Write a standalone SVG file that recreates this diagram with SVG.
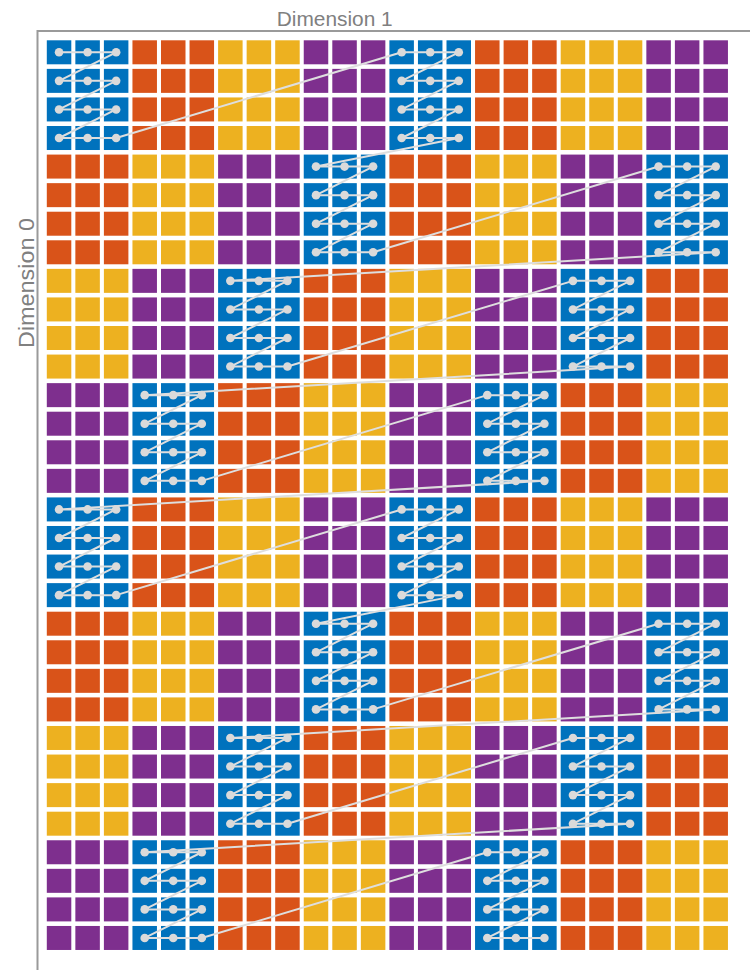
<svg xmlns="http://www.w3.org/2000/svg" xmlns:xlink="http://www.w3.org/1999/xlink" width="750" height="970" viewBox="0 0 750 970">
<style>
.B{fill:#0072BD}.O{fill:#D95319}.Y{fill:#EDB120}.P{fill:#7E2F8E}
.lbl{font-family:"Liberation Sans",Arial,sans-serif;font-size:21px;fill:#808080}
.axis{fill:none;stroke:#9a9a9a;stroke-width:2}
.trace{fill:none;stroke:#dedede;stroke-width:2;stroke-linejoin:round;marker-start:url(#dot);marker-mid:url(#dot);marker-end:url(#dot)}
</style>
<defs>
<g id="cells">
<rect x="0" y="0" width="24.5" height="24"/><rect x="28.55" y="0" width="24.5" height="24"/><rect x="57.1" y="0" width="24.5" height="24"/>
<rect x="0" y="28.57" width="24.5" height="24"/><rect x="28.55" y="28.57" width="24.5" height="24"/><rect x="57.1" y="28.57" width="24.5" height="24"/>
<rect x="0" y="57.14" width="24.5" height="24"/><rect x="28.55" y="57.14" width="24.5" height="24"/><rect x="57.1" y="57.14" width="24.5" height="24"/>
<rect x="0" y="85.71" width="24.5" height="24"/><rect x="28.55" y="85.71" width="24.5" height="24"/><rect x="57.1" y="85.71" width="24.5" height="24"/>
</g>
<marker id="dot" markerUnits="userSpaceOnUse" markerWidth="10" markerHeight="10" refX="5" refY="5" overflow="visible">
<circle cx="5" cy="5" r="4.3" fill="#dadada"/>
</marker>
</defs>
<rect x="0" y="0" width="750" height="970" fill="#ffffff"/>
<text class="lbl" x="334.7" y="25.5" text-anchor="middle" textLength="116" lengthAdjust="spacingAndGlyphs">Dimension 1</text>
<text class="lbl" transform="translate(33.5 283) rotate(-90)" text-anchor="middle" style="font-size:22px" textLength="130" lengthAdjust="spacingAndGlyphs">Dimension 0</text>
<path class="axis" d="M37.5 970 V31 H750"/>
<g id="blocks">
<g id="b0-0" class="B"><use xlink:href="#cells" x="46.8" y="40.3"/></g>
<g id="b0-1" class="O"><use xlink:href="#cells" x="132.45" y="40.3"/></g>
<g id="b0-2" class="Y"><use xlink:href="#cells" x="218.1" y="40.3"/></g>
<g id="b0-3" class="P"><use xlink:href="#cells" x="303.75" y="40.3"/></g>
<g id="b0-4" class="B"><use xlink:href="#cells" x="389.4" y="40.3"/></g>
<g id="b0-5" class="O"><use xlink:href="#cells" x="475.05" y="40.3"/></g>
<g id="b0-6" class="Y"><use xlink:href="#cells" x="560.7" y="40.3"/></g>
<g id="b0-7" class="P"><use xlink:href="#cells" x="646.35" y="40.3"/></g>
<g id="b1-0" class="O"><use xlink:href="#cells" x="46.8" y="154.58"/></g>
<g id="b1-1" class="Y"><use xlink:href="#cells" x="132.45" y="154.58"/></g>
<g id="b1-2" class="P"><use xlink:href="#cells" x="218.1" y="154.58"/></g>
<g id="b1-3" class="B"><use xlink:href="#cells" x="303.75" y="154.58"/></g>
<g id="b1-4" class="O"><use xlink:href="#cells" x="389.4" y="154.58"/></g>
<g id="b1-5" class="Y"><use xlink:href="#cells" x="475.05" y="154.58"/></g>
<g id="b1-6" class="P"><use xlink:href="#cells" x="560.7" y="154.58"/></g>
<g id="b1-7" class="B"><use xlink:href="#cells" x="646.35" y="154.58"/></g>
<g id="b2-0" class="Y"><use xlink:href="#cells" x="46.8" y="268.86"/></g>
<g id="b2-1" class="P"><use xlink:href="#cells" x="132.45" y="268.86"/></g>
<g id="b2-2" class="B"><use xlink:href="#cells" x="218.1" y="268.86"/></g>
<g id="b2-3" class="O"><use xlink:href="#cells" x="303.75" y="268.86"/></g>
<g id="b2-4" class="Y"><use xlink:href="#cells" x="389.4" y="268.86"/></g>
<g id="b2-5" class="P"><use xlink:href="#cells" x="475.05" y="268.86"/></g>
<g id="b2-6" class="B"><use xlink:href="#cells" x="560.7" y="268.86"/></g>
<g id="b2-7" class="O"><use xlink:href="#cells" x="646.35" y="268.86"/></g>
<g id="b3-0" class="P"><use xlink:href="#cells" x="46.8" y="383.14"/></g>
<g id="b3-1" class="B"><use xlink:href="#cells" x="132.45" y="383.14"/></g>
<g id="b3-2" class="O"><use xlink:href="#cells" x="218.1" y="383.14"/></g>
<g id="b3-3" class="Y"><use xlink:href="#cells" x="303.75" y="383.14"/></g>
<g id="b3-4" class="P"><use xlink:href="#cells" x="389.4" y="383.14"/></g>
<g id="b3-5" class="B"><use xlink:href="#cells" x="475.05" y="383.14"/></g>
<g id="b3-6" class="O"><use xlink:href="#cells" x="560.7" y="383.14"/></g>
<g id="b3-7" class="Y"><use xlink:href="#cells" x="646.35" y="383.14"/></g>
<g id="b4-0" class="B"><use xlink:href="#cells" x="46.8" y="497.42"/></g>
<g id="b4-1" class="O"><use xlink:href="#cells" x="132.45" y="497.42"/></g>
<g id="b4-2" class="Y"><use xlink:href="#cells" x="218.1" y="497.42"/></g>
<g id="b4-3" class="P"><use xlink:href="#cells" x="303.75" y="497.42"/></g>
<g id="b4-4" class="B"><use xlink:href="#cells" x="389.4" y="497.42"/></g>
<g id="b4-5" class="O"><use xlink:href="#cells" x="475.05" y="497.42"/></g>
<g id="b4-6" class="Y"><use xlink:href="#cells" x="560.7" y="497.42"/></g>
<g id="b4-7" class="P"><use xlink:href="#cells" x="646.35" y="497.42"/></g>
<g id="b5-0" class="O"><use xlink:href="#cells" x="46.8" y="611.7"/></g>
<g id="b5-1" class="Y"><use xlink:href="#cells" x="132.45" y="611.7"/></g>
<g id="b5-2" class="P"><use xlink:href="#cells" x="218.1" y="611.7"/></g>
<g id="b5-3" class="B"><use xlink:href="#cells" x="303.75" y="611.7"/></g>
<g id="b5-4" class="O"><use xlink:href="#cells" x="389.4" y="611.7"/></g>
<g id="b5-5" class="Y"><use xlink:href="#cells" x="475.05" y="611.7"/></g>
<g id="b5-6" class="P"><use xlink:href="#cells" x="560.7" y="611.7"/></g>
<g id="b5-7" class="B"><use xlink:href="#cells" x="646.35" y="611.7"/></g>
<g id="b6-0" class="Y"><use xlink:href="#cells" x="46.8" y="725.98"/></g>
<g id="b6-1" class="P"><use xlink:href="#cells" x="132.45" y="725.98"/></g>
<g id="b6-2" class="B"><use xlink:href="#cells" x="218.1" y="725.98"/></g>
<g id="b6-3" class="O"><use xlink:href="#cells" x="303.75" y="725.98"/></g>
<g id="b6-4" class="Y"><use xlink:href="#cells" x="389.4" y="725.98"/></g>
<g id="b6-5" class="P"><use xlink:href="#cells" x="475.05" y="725.98"/></g>
<g id="b6-6" class="B"><use xlink:href="#cells" x="560.7" y="725.98"/></g>
<g id="b6-7" class="O"><use xlink:href="#cells" x="646.35" y="725.98"/></g>
<g id="b7-0" class="P"><use xlink:href="#cells" x="46.8" y="840.26"/></g>
<g id="b7-1" class="B"><use xlink:href="#cells" x="132.45" y="840.26"/></g>
<g id="b7-2" class="O"><use xlink:href="#cells" x="218.1" y="840.26"/></g>
<g id="b7-3" class="Y"><use xlink:href="#cells" x="303.75" y="840.26"/></g>
<g id="b7-4" class="P"><use xlink:href="#cells" x="389.4" y="840.26"/></g>
<g id="b7-5" class="B"><use xlink:href="#cells" x="475.05" y="840.26"/></g>
<g id="b7-6" class="O"><use xlink:href="#cells" x="560.7" y="840.26"/></g>
<g id="b7-7" class="Y"><use xlink:href="#cells" x="646.35" y="840.26"/></g>
</g>
<g id="connectors">
<path class="trace" d="M59.05 52.3 h28.55h28.55l-57.1 28.57h28.55h28.55l-57.1 28.57h28.55h28.55l-57.1 28.57h28.55h28.55
L401.65 52.3 h28.55h28.55l-57.1 28.57h28.55h28.55l-57.1 28.57h28.55h28.55l-57.1 28.57h28.55h28.55
L316 166.58 h28.55h28.55l-57.1 28.57h28.55h28.55l-57.1 28.57h28.55h28.55l-57.1 28.57h28.55h28.55
L658.6 166.58 h28.55h28.55l-57.1 28.57h28.55h28.55l-57.1 28.57h28.55h28.55l-57.1 28.57h28.55h28.55
L230.35 280.86 h28.55h28.55l-57.1 28.57h28.55h28.55l-57.1 28.57h28.55h28.55l-57.1 28.57h28.55h28.55
L572.95 280.86 h28.55h28.55l-57.1 28.57h28.55h28.55l-57.1 28.57h28.55h28.55l-57.1 28.57h28.55h28.55
L144.7 395.14 h28.55h28.55l-57.1 28.57h28.55h28.55l-57.1 28.57h28.55h28.55l-57.1 28.57h28.55h28.55
L487.3 395.14 h28.55h28.55l-57.1 28.57h28.55h28.55l-57.1 28.57h28.55h28.55l-57.1 28.57h28.55h28.55
L59.05 509.42 h28.55h28.55l-57.1 28.57h28.55h28.55l-57.1 28.57h28.55h28.55l-57.1 28.57h28.55h28.55
L401.65 509.42 h28.55h28.55l-57.1 28.57h28.55h28.55l-57.1 28.57h28.55h28.55l-57.1 28.57h28.55h28.55
L316 623.7 h28.55h28.55l-57.1 28.57h28.55h28.55l-57.1 28.57h28.55h28.55l-57.1 28.57h28.55h28.55
L658.6 623.7 h28.55h28.55l-57.1 28.57h28.55h28.55l-57.1 28.57h28.55h28.55l-57.1 28.57h28.55h28.55
L230.35 737.98 h28.55h28.55l-57.1 28.57h28.55h28.55l-57.1 28.57h28.55h28.55l-57.1 28.57h28.55h28.55
L572.95 737.98 h28.55h28.55l-57.1 28.57h28.55h28.55l-57.1 28.57h28.55h28.55l-57.1 28.57h28.55h28.55
L144.7 852.26 h28.55h28.55l-57.1 28.57h28.55h28.55l-57.1 28.57h28.55h28.55l-57.1 28.57h28.55h28.55
L487.3 852.26 h28.55h28.55l-57.1 28.57h28.55h28.55l-57.1 28.57h28.55h28.55l-57.1 28.57h28.55h28.55"/>
</g>
</svg>
